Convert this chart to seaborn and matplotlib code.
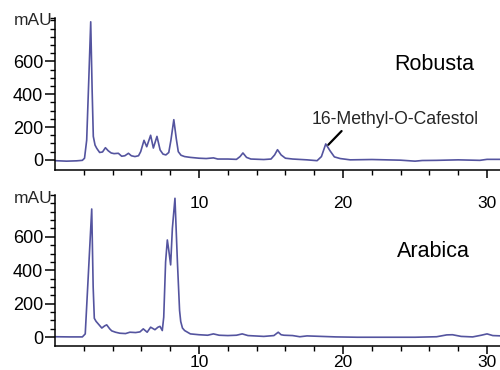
import matplotlib
matplotlib.use("Agg")
import matplotlib.pyplot as plt
import numpy as np
import seaborn as sns

# Retention time (min) and detector signal (mAU), read point by point
robusta_time = [0.0, 0.8, 1.5, 1.9, 2.05, 2.2, 2.35, 2.48, 2.58, 2.66, 2.78, 2.9,
                3.1, 3.3, 3.5, 3.7, 3.9, 4.1, 4.4, 4.63, 4.85, 5.1, 5.3, 5.55,
                5.8, 5.95, 6.18, 6.37, 6.64, 6.83, 7.08, 7.3, 7.5, 7.7, 7.9, 8.05,
                8.25, 8.42, 8.56, 8.75, 9.0, 9.4, 10.0, 10.5, 11.0, 11.3, 12.0, 12.6,
                12.85, 13.05, 13.3, 13.6, 14.5, 15.0, 15.25, 15.45, 15.7, 16.0, 16.5,
                17.5, 18.2, 18.5, 18.8, 19.1, 19.4, 19.8, 20.5, 22.0, 24.0, 25.0,
                25.5, 26.5, 28.0, 29.5, 30.0, 31.0]
robusta_mau = [-5, -8, -6, -3, 10, 120, 500, 842, 420, 143, 90, 70,
               45, 48, 74, 55, 42, 38, 40, 22, 25, 40, 25, 20,
               25, 50, 119, 80, 150, 72, 143, 60, 35, 30, 45, 120,
               245, 130, 50, 28, 20, 15, 10, 8, 12, 5, 5, 3,
               20, 42, 15, 5, 2, 5, 30, 62, 30, 10, 5,
               0, -5, 20, 97, 55, 18, 8, 0, 2, -2, -8,
               -4, -3, 0, -3, 3, 3]

arabica_time = [0.0, 1.0, 1.9, 2.1, 2.3, 2.55, 2.65, 2.73, 2.85, 2.96, 3.25, 3.45,
                3.59, 3.8, 3.94, 4.2, 4.5, 4.9, 5.2, 5.6, 5.9, 6.13, 6.4, 6.64,
                6.94, 7.15, 7.29, 7.45, 7.55, 7.68, 7.8, 7.9, 8.03, 8.15, 8.33, 8.5,
                8.65, 8.73, 8.85, 9.0, 9.4, 10.0, 10.6, 11.0, 11.4, 12.0, 12.6, 13.0,
                13.4, 14.5, 15.2, 15.5, 15.7, 15.9, 16.5, 17.0, 17.5, 18.5, 19.5,
                21.0, 23.0, 25.0, 26.5, 27.2, 27.6, 28.2, 29.0, 29.6, 30.0, 30.4, 31.0]
arabica_mau = [3, 2, 2, 20, 350, 766, 300, 113, 95, 84, 55, 68,
               74, 50, 38, 30, 24, 22, 30, 28, 32, 50, 30, 60,
               45, 60, 65, 40, 120, 450, 581, 520, 432, 650, 830, 450,
               160, 94, 55, 40, 20, 15, 12, 20, 12, 10, 12, 20,
               10, 5, 10, 30, 15, 12, 10, 3, 8, 5, 2,
               0, 0, 0, 3, 14, 15, 5, 2, 12, 20, 10, 8]

x_major = [10, 20, 30]
y_major = [0, 200, 400, 600]
sample_names = ["Robusta", "Arabica"]
peak_label = "16-Methyl-O-Cafestol"
peak_label_point = (18.98, 92)

LINE = "#54549f"

sns.set_theme(style="ticks")
plt.rcParams["font.family"] = ["Liberation Sans", "DejaVu Sans"]

fig = plt.figure(figsize=(5.0, 3.7), dpi=100)
ax_top = fig.add_axes([0.11, 0.5405, 0.89, 0.4108])
ax_bot = fig.add_axes([0.11, 0.0650, 0.89, 0.4073])
ax_top.set_zorder(2)

panels = [
    (ax_top, robusta_time, robusta_mau, (-62, 865), 13.0, (23.55, 549)),
    (ax_bot, arabica_time, arabica_mau, (-52, 848), 0.8, (23.75, 478)),
]

for (ax, t, s, ylim, xpad, name_pos), name in zip(panels, sample_names):
    sns.lineplot(x=t, y=s, ax=ax, color=LINE, lw=1.2, estimator=None, sort=False)
    ax.set_xlim(0, 30.9)
    ax.set_ylim(*ylim)
    ax.set_xlabel("")
    ax.set_ylabel("")
    ax.patch.set_alpha(0.0)
    for side in ("top", "right"):
        ax.spines[side].set_visible(False)
    for side in ("left", "bottom"):
        ax.spines[side].set_linewidth(1.1)
        ax.spines[side].set_color("black")

    ax.set_xticks(x_major)
    ax.set_xticks(np.arange(2, 31, 2), minor=True)
    ax.set_yticks(y_major)
    ax.set_yticks(list(np.arange(50, ylim[1], 50)) + [ylim[1]], minor=True)

    ax.tick_params(axis="x", which="major", direction="out", length=5.5, width=1.1,
                   pad=xpad, labelsize=12.5, colors="black")
    ax.tick_params(axis="x", which="minor", direction="out", length=3.5, width=1.0,
                   colors="black")
    ax.tick_params(axis="y", which="major", direction="out", length=7, width=1.1,
                   pad=1.5, labelsize=13, colors="black")
    ax.tick_params(axis="y", which="minor", direction="out", length=3.5, width=1.0,
                   colors="black")

    # unit label at the top of the signal axis
    ax.annotate("mAU", xy=(0, ylim[1]), xycoords=("axes fraction", "data"),
                xytext=(-1.5, -2), textcoords="offset points", ha="right",
                va="center", fontsize=12.5, annotation_clip=False)

    ax.text(name_pos[0], name_pos[1], name, fontsize=15.5, ha="left",
            va="baseline", color="black")

ax_top.annotate(peak_label, xy=peak_label_point, xytext=(17.8, 220),
                textcoords="data", fontsize=12.7, ha="left", va="baseline",
                arrowprops=dict(arrowstyle="-", color="black", lw=1.6,
                                shrinkA=0, shrinkB=0,
                                relpos=(0.2, 0.0)))

fig.savefig("out.png", dpi=100, facecolor="white")
